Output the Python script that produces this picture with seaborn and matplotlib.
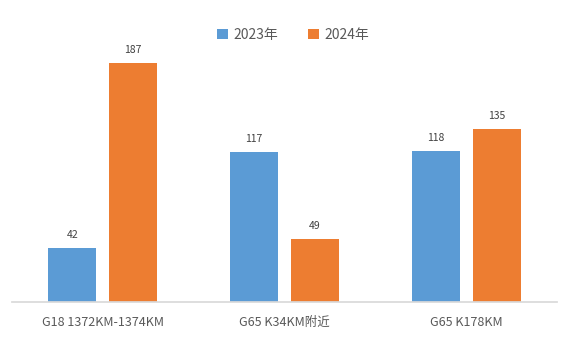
import matplotlib
matplotlib.use("Agg")
import matplotlib.pyplot as plt
import seaborn as sns
import pandas as pd

categories = ["G18 1372KM-1374KM", "G65 K34KM附近", "G65 K178KM"]
series_names = ["2023年", "2024年"]
values_2023 = [42, 117, 118]
values_2024 = [187, 49, 135]

df = pd.DataFrame({
    "cat": categories * 2,
    "year": [series_names[0]] * 3 + [series_names[1]] * 3,
    "val": values_2023 + values_2024,
})

sns.set_theme(style="white")
plt.rcParams['font.family'] = ['Noto Sans CJK SC', 'DejaVu Sans']

fig = plt.figure(figsize=(5.69, 3.46), dpi=100)
ax = fig.add_axes([12/569, 44/346, 545/569, 262/346])

palette = {"2023年": "#5B9BD5", "2024年": "#ED7D31"}
sns.barplot(data=df, x="cat", y="val", hue="year", palette=palette,
            width=0.67, gap=0.21, ax=ax, saturation=1, legend=True,
            linewidth=0, edgecolor="none")

ax.set_ylim(0, 205)
ax.set_xlim(-0.5, 2.5)
for c in ax.containers:
    ax.bar_label(c, padding=6, fontsize=7.5, color="#404040")

for s in ["top", "right", "left"]:
    ax.spines[s].set_visible(False)
ax.spines["bottom"].set_color("#D9D9D9")
ax.set_yticks([])
ax.set_xlabel("")
ax.set_ylabel("")
ax.tick_params(axis="x", length=0, pad=10, labelsize=9, labelcolor="#595959")

handles, labels = ax.get_legend_handles_labels()
ax.get_legend().remove()
leg = fig.legend(handles, labels, loc="center", bbox_to_anchor=(293/569, 1 - 35/346), ncol=2,
                 frameon=False, fontsize=10, handlelength=0.8, handleheight=0.8,
                 columnspacing=2.2, handletextpad=0.35)
for t in leg.get_texts():
    t.set_color("#595959")

fig.savefig("out.png", dpi=100)
